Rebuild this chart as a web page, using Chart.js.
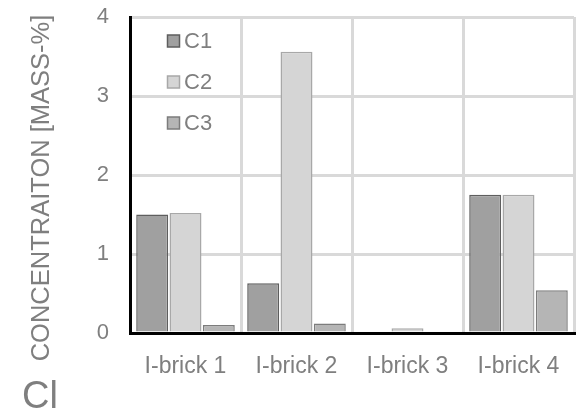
<!DOCTYPE html>
<html>
<head>
<meta charset="utf-8">
<script src="https://cdn.jsdelivr.net/npm/chart.js@4"></script>
<style>
  body { margin: 0; background: #fff; }
</style>
</head>
<body>
<canvas id="canvas" width="577" height="409"></canvas>
<script>
  // data
  const bricks = ['I-brick 1', 'I-brick 2', 'I-brick 3', 'I-brick 4'];
  const c1 = [1.50, 0.63, 0, 1.75];
  const c2 = [1.52, 3.56, 0.06, 1.75];
  const c3 = [0.10, 0.12, 0, 0.54];
  const yTicks = [0, 1, 2, 3, 4];
  const yTitle = 'CONCENTRAITON [MASS-%]';
  const element = 'Cl';

  const grey = '#7f7f7f';
  const font = '"Liberation Sans", Arial, sans-serif';

  // legend sits inside the plot, top left; plus the rotated title and the element label
  const extras = {
    id: 'extras',
    afterDraw(chart) {
      const ctx = chart.ctx;
      ctx.save();
      ctx.font = '22px ' + font;
      ctx.textBaseline = 'middle';
      chart.data.datasets.forEach(function(ds, i) {
        var y = 41 + i * 41;
        ctx.fillStyle = ds.backgroundColor;
        ctx.strokeStyle = ds.borderColor;
        ctx.lineWidth = 1.5;
        ctx.fillRect(167.5, y - 6, 12, 12);
        ctx.strokeRect(167.5, y - 6, 12, 12);
        ctx.fillStyle = grey;
        ctx.fillText(ds.label, 184, y + 1);
      });
      ctx.textBaseline = 'alphabetic';
      ctx.font = '38px ' + font;
      ctx.fillText(element, 22, 408);
      ctx.translate(49, 188);
      ctx.rotate(-Math.PI / 2);
      ctx.font = '25.5px ' + font;
      ctx.textAlign = 'center';
      ctx.fillText(yTitle, 0, 0);
      ctx.restore();
    }
  };

  const data = {
    labels: bricks,
    datasets: [{
      label: 'C1',
      data: c1,
      backgroundColor: '#a0a0a0',
      borderColor: '#5e5e5e',
      borderWidth: 1.5
    }, {
      label: 'C2',
      data: c2,
      backgroundColor: '#d5d5d5',
      borderColor: '#a8a8a8',
      borderWidth: 1.5
    }, {
      label: 'C3',
      data: c3,
      backgroundColor: '#b5b5b5',
      borderColor: '#7c7c7c',
      borderWidth: 1.5
    }]
  };

  const config = {
    type: 'bar',
    data: data,
    options: {
      responsive: false,
      animation: false,
      layout: { padding: { top: 17, right: 3, left: 0, bottom: 0 } },
      datasets: { bar: { categoryPercentage: 0.9, barPercentage: 0.96 } },
      plugins: { legend: { display: false }, tooltip: { enabled: false } },
      scales: {
        x: {
          grid: { color: '#d9d9d9', lineWidth: 3, drawTicks: false },
          border: { color: '#000', width: 3 },
          ticks: { color: grey, font: { size: 23, family: font }, padding: 20 },
          afterFit: function(s) { s.height = 76; s.paddingLeft = 0; s.paddingRight = 0; }
        },
        y: {
          min: 0, max: 4,
          afterBuildTicks: function(s) { s.ticks = yTicks.map(v => ({ value: v })); },
          grid: { color: '#d9d9d9', lineWidth: 3, drawTicks: false },
          border: { color: '#000', width: 3 },
          ticks: { color: grey, font: { size: 22, family: font }, padding: 21 },
          afterFit: function(s) { s.width = 130; s.paddingTop = 0; s.paddingBottom = 0; }
        }
      }
    },
    plugins: [extras]
  };

  const chart = new Chart(document.getElementById('canvas'), config);
</script>
</body>
</html>
